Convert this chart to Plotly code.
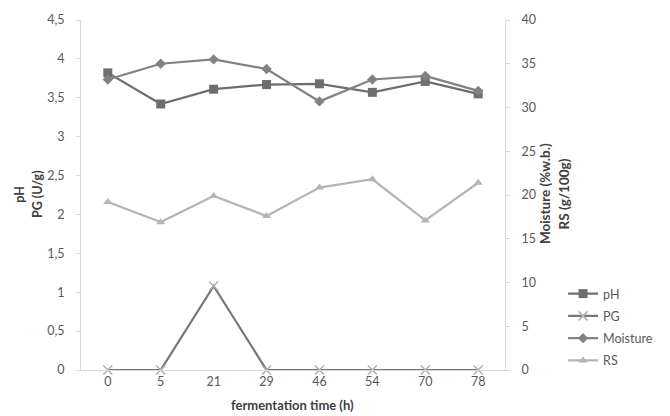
import plotly.graph_objects as go

times = ["0", "5", "21", "29", "46", "54", "70", "78"]
ph = [3.82, 3.42, 3.61, 3.67, 3.68, 3.57, 3.71, 3.55]
pg = [0, 0, 1.08, 0, 0, 0, 0, 0]
moisture = [33.2, 35.0, 35.5, 34.4, 30.7, 33.2, 33.6, 31.9]
rs = [19.2, 16.9, 19.9, 17.6, 20.85, 21.8, 17.1, 21.4]

left_title = ["pH", "PG (U/g)"]
right_title = ["Moisture (%w.b.)", "RS (g/100g)"]
x_title = "fermentation time (h)"

FONT = "Lato"
TICK_COLOR = "#595959"
AXIS_COLOR = "#d9d9d9"
TITLE_COLOR = "#404040"

L, R, T, B = 81, 150, 15, 46
W, H = 670, 416
PW, PH = W - L - R, H - T - B


def px_x(px):
    return (px - L) / PW


def px_y(py):
    return (H - B - py) / PH


fig = go.Figure()
fig.add_trace(go.Scatter(
    x=times, y=ph, name="pH", mode="lines+markers", legendgroup="a",
    line=dict(color="#6e6e6e", width=2.25),
    marker=dict(symbol="square", size=9, color="#6e6e6e"),
    cliponaxis=False))
fig.add_trace(go.Scatter(
    x=times, y=pg, name="PG", mode="lines+markers", legendgroup="b",
    line=dict(color="#767676", width=2.25),
    marker=dict(symbol="x-thin", size=9, line=dict(color="#b0b0b0", width=1.5)),
    cliponaxis=False))
fig.add_trace(go.Scatter(
    x=times, y=moisture, name="Moisture", mode="lines+markers", legendgroup="c",
    yaxis="y2",
    line=dict(color="#828282", width=2.25),
    marker=dict(symbol="diamond", size=8, color="#828282"),
    cliponaxis=False))
fig.add_trace(go.Scatter(
    x=times, y=rs, name="RS", mode="lines+markers", legendgroup="d",
    yaxis="y2",
    line=dict(color="#b5b5b5", width=2.25),
    marker=dict(symbol="triangle-up", size=8, color="#b5b5b5"),
    cliponaxis=False))

annotations = []
for txt, px in zip(left_title, [17, 36]):
    annotations.append(dict(text="<b>%s</b>" % txt, xref="paper", yref="paper",
                            x=px_x(px), y=px_y(192), textangle=-90,
                            showarrow=False, xanchor="center", yanchor="middle",
                            font=dict(family=FONT, size=12.5, color=TITLE_COLOR)))
for txt, px in zip(right_title, [561, 581]):
    annotations.append(dict(text="<b>%s</b>" % txt, xref="paper", yref="paper",
                            x=px_x(px), y=px_y(191), textangle=-90,
                            showarrow=False, xanchor="center", yanchor="middle",
                            font=dict(family=FONT, size=13.5, color=TITLE_COLOR)))
annotations.append(dict(text="<b>%s</b>" % x_title, xref="paper", yref="paper",
                        x=px_x(300), y=px_y(406), showarrow=False,
                        xanchor="center", yanchor="middle",
                        font=dict(family=FONT, size=13, color=TITLE_COLOR)))

fig.update_layout(
    width=W, height=H,
    margin=dict(l=L, r=R, t=T, b=B),
    paper_bgcolor="white", plot_bgcolor="white",
    separators=", ",
    font=dict(family=FONT, size=12.5, color=TICK_COLOR),
    showlegend=True,
    legend=dict(x=1.137, y=0.26, xanchor="left", yanchor="top",
                font=dict(family=FONT, size=12.5, color=TICK_COLOR),
                itemwidth=30, tracegroupgap=3, bgcolor="rgba(0,0,0,0)"),
    annotations=annotations,
    xaxis=dict(type="category", categoryorder="array", categoryarray=times,
               showline=True, linecolor=AXIS_COLOR, linewidth=1,
               showgrid=False, zeroline=False, ticks="",
               tickfont=dict(family=FONT, size=12.5, color=TICK_COLOR)),
    yaxis=dict(range=[0, 4.5], dtick=0.5, tick0=0,
               showline=True, linecolor=AXIS_COLOR, linewidth=1,
               showgrid=False, zeroline=False,
               ticks="outside", ticklen=4, tickcolor=AXIS_COLOR,
               ticklabelstandoff=9,
               tickfont=dict(family=FONT, size=12.5, color=TICK_COLOR)),
    yaxis2=dict(range=[0, 40], dtick=5, tick0=0, overlaying="y", side="right",
                showline=True, linecolor=AXIS_COLOR, linewidth=1,
                showgrid=False, zeroline=False,
                ticks="outside", ticklen=4, tickcolor=AXIS_COLOR,
                ticklabelstandoff=9,
                tickfont=dict(family=FONT, size=12.5, color=TICK_COLOR)),
)

fig.write_html("out.html")
